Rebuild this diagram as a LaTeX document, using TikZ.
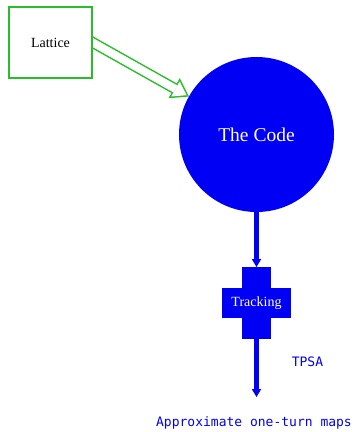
\documentclass[tikz,border=0pt]{standalone}
\usepackage{fontspec}
\setmainfont{Liberation Serif}
\setmonofont{DejaVu Sans Mono}
\usetikzlibrary{arrows.meta,positioning,backgrounds}
\definecolor{lattgreen}{RGB}{40,190,40}
\definecolor{codeblue}{RGB}{0,0,245}
\tikzset{
    box/.style={
        draw=lattgreen,line width=1.5pt,fill=white,
        minimum width=83pt,minimum height=71pt,
        font=\fontsize{14}{16}\selectfont
    },
    blob/.style={
        circle,fill=codeblue,inner sep=0pt,outer sep=0pt,
        minimum size=155pt,text=white,
        font=\fontsize{19.5}{22}\selectfont
    },
    bar/.style={
        fill=codeblue,inner sep=0pt,outer sep=0pt,text=white,
        font=\fontsize{14}{16}\selectfont
    },
    hollow/.style={
        draw=lattgreen,line width=11pt,
        -{Triangle[length=17pt,width=23pt,line width=0pt]},
        postaction={draw=white,line width=8pt,shorten >=2.7pt,
            -{Triangle[length=12.8pt,width=17.3pt,line width=0pt]}}
    },
    flow/.style={
        draw=codeblue,line width=4.5pt,
        -{Triangle[length=8pt,width=9.5pt,line width=0pt]}
    },
    note/.style={
        text=codeblue,font=\ttfamily\fontsize{13}{15}\selectfont
    }
}

\begin{document}
\begin{tikzpicture}[x=1pt,y=-1pt]
\useasboundingbox (0,0) rectangle (357,432);

\node[box] (lattice) at (50.5,42.5) {Lattice};

\node[blob] (code) at (256.5,134.5) {The Code};

% the cross: upright bar first, then the cross bar with the label
\node[bar,minimum width=29pt,minimum height=72pt] (trackbar) at (256.5,303) {};
\node[bar,minimum width=69pt,minimum height=30pt] (tracking) at (trackbar) {Tracking};

\node[note] (tpsa) at (307.5,362) {TPSA};
\node[note] (maps) at (254,423) {Approximate one-turn maps};
\coordinate (mapsend) at (256.5,397);

\begin{pgfonlayer}{background}
\draw[hollow,shorten <=-10pt] (lattice.east) -- (code);
\end{pgfonlayer}

\draw[flow] (code.south) -- (trackbar.north);
\draw[flow] (trackbar.south) -- (mapsend);

\end{tikzpicture}
\end{document}
